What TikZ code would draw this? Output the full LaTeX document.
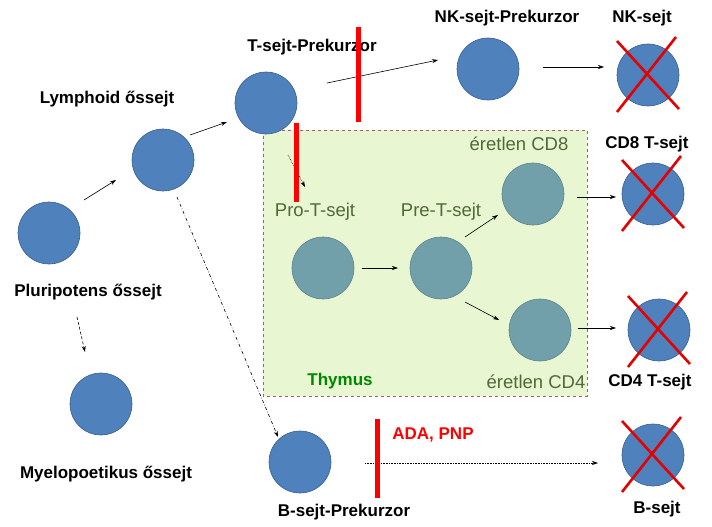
\documentclass[tikz,border=0pt]{standalone}
\usepackage{fontspec}
\setmainfont{Liberation Sans}
\usetikzlibrary{arrows.meta,calc,positioning}
\definecolor{cellblue}{RGB}{79,129,189}
\definecolor{cellline}{RGB}{56,93,138}
\definecolor{thycell}{RGB}{114,160,170}
\definecolor{thyline}{RGB}{90,130,140}
\definecolor{thyfill}{RGB}{232,247,210}
\definecolor{thygreen}{RGB}{0,135,0}
\definecolor{immgreen}{RGB}{80,105,55}
\definecolor{blockred}{RGB}{255,0,0}
\newcommand{\killcell}[1]{%
  \draw[crossline] ($(#1)+(-31,-34)$) -- ($(#1)+(31,34)$);
  \draw[crossline] ($(#1)+(28,-38)$) -- ($(#1)+(-31,37)$);}

\begin{document}
\begin{tikzpicture}[x=1pt,y=-1pt,
  every node/.style={font=\fontsize{17}{20}\selectfont\bfseries,inner sep=0pt},
  cell/.style={circle,draw=cellline,fill=cellblue,line width=0.6pt,minimum size=62pt},
  thycell/.style={circle,draw=thyline,fill=thycell,line width=0.6pt,minimum size=62pt},
  lbl/.style={text=black},
  immlbl/.style={text=immgreen,font=\fontsize{18.5}{20}\selectfont},
  arr/.style={-{Stealth[length=6pt,width=4pt]},line width=0.6pt},
  blockbar/.style={blockred,line width=5pt},
  crossline/.style={red!90!black,line width=2.6pt}]
  \useasboundingbox (0,0) rectangle (712,527);
  % thymus
  \fill[thyfill] (263,130) rectangle (587,396);
  \draw[dashed,gray!80!red,line width=0.5pt] (263,130) rectangle (587,396);
  % cells
  \node[cell] (pluri) at (49,233) {};
  \node[cell] (lymph) at (163,160) {};
  \node[cell] (tprek) at (266,103) {};
  \node[cell] (nkprek) at (488,69) {};
  \node[cell] (nk) at (648,75) {};
  \node[thycell] (prot) at (323,268) {};
  \node[thycell] (pret) at (441,268) {};
  \node[thycell] (cdeight) at (533,194) {};
  \node[thycell] (cdfour) at (540,330) {};
  \node[cell] (cdeightt) at (653,194) {};
  \node[cell] (cdfourt) at (659,330) {};
  \node[cell] (myelo) at (101,404) {};
  \node[cell] (bprek) at (300,462) {};
  \node[cell] (bcell) at (653,455) {};
  % labels
  \node[lbl] at (107,99) {Lymphoid őssejt};
  \node[lbl] at (312,47) {T-sejt-Prekurzor};
  \node[lbl] at (507,18) {NK-sejt-Prekurzor};
  \node[lbl] at (642,18) {NK-sejt};
  \node[immlbl] at (519,144) {éretlen CD8};
  \node[lbl] at (647,144) {CD8 T-sejt};
  \node[immlbl] at (315,212) {Pro-T-sejt};
  \node[immlbl] at (441,212) {Pre-T-sejt};
  \node[text=thygreen] at (340,381) {Thymus};
  \node[immlbl] at (536,382) {éretlen CD4};
  \node[lbl] at (650,382) {CD4 T-sejt};
  \node[lbl] at (88,292) {Pluripotens őssejt};
  \node[lbl] at (106,474) {Myelopoetikus őssejt};
  \node[lbl] at (344,512) {B-sejt-Prekurzor};
  \node[lbl] at (657,509) {B-sejt};
  \node[text=blockred] at (433,435) {ADA, PNP};
  % arrows
  \draw[arr] (pluri) ++(35,-33) -- ++(32,-20);
  \draw[arr] (lymph) ++(27,-25) -- ++(37,-13);
  \draw[arr] ($(tprek)+(61,-20)$) -- ($(nkprek)+(-50,-9)$);
  \draw[arr] ($(nkprek)+(55,-2)$) -- ($(nk)+(-44,-8)$);
  \draw[arr,densely dotted] ($(tprek)+(22,52)$) -- ($(prot)+(-18,-81)$);
  \draw[arr] ($(prot)+(39,0)$) -- ($(pret)+(-43,0)$);
  \draw[arr] ($(pret)+(24,-31)$) -- ($(cdeight)+(-35,21)$);
  \draw[arr] ($(cdeight)+(44,3)$) -- ($(cdeightt)+(-37,3)$);
  \draw[arr] ($(pret)+(24,34)$) -- ($(cdfour)+(-41,-10)$);
  \draw[arr] ($(cdfour)+(38,-2)$) -- ($(cdfourt)+(-43,-2)$);
  \draw[arr,densely dashed] ($(pluri)+(28,84)$) -- ($(myelo)+(-16,-52)$);
  \draw[arr,dash dot] ($(lymph)+(14,37)$) -- ($(bprek)+(-22,-25)$);
  \draw[arr,densely dotted] ($(bprek)+(65,1)$) -- ($(bcell)+(-55,8)$);
  % blocks
  \draw[blockbar] (358,27) -- (358,122);
  \draw[blockbar] (296,123) -- (296,202);
  \draw[blockbar] (377,419) -- (377,498);
  % dead cells
  \killcell{nk}
  \killcell{cdeightt}
  \killcell{cdfourt}
  \killcell{bcell}
\end{tikzpicture}
\end{document}
